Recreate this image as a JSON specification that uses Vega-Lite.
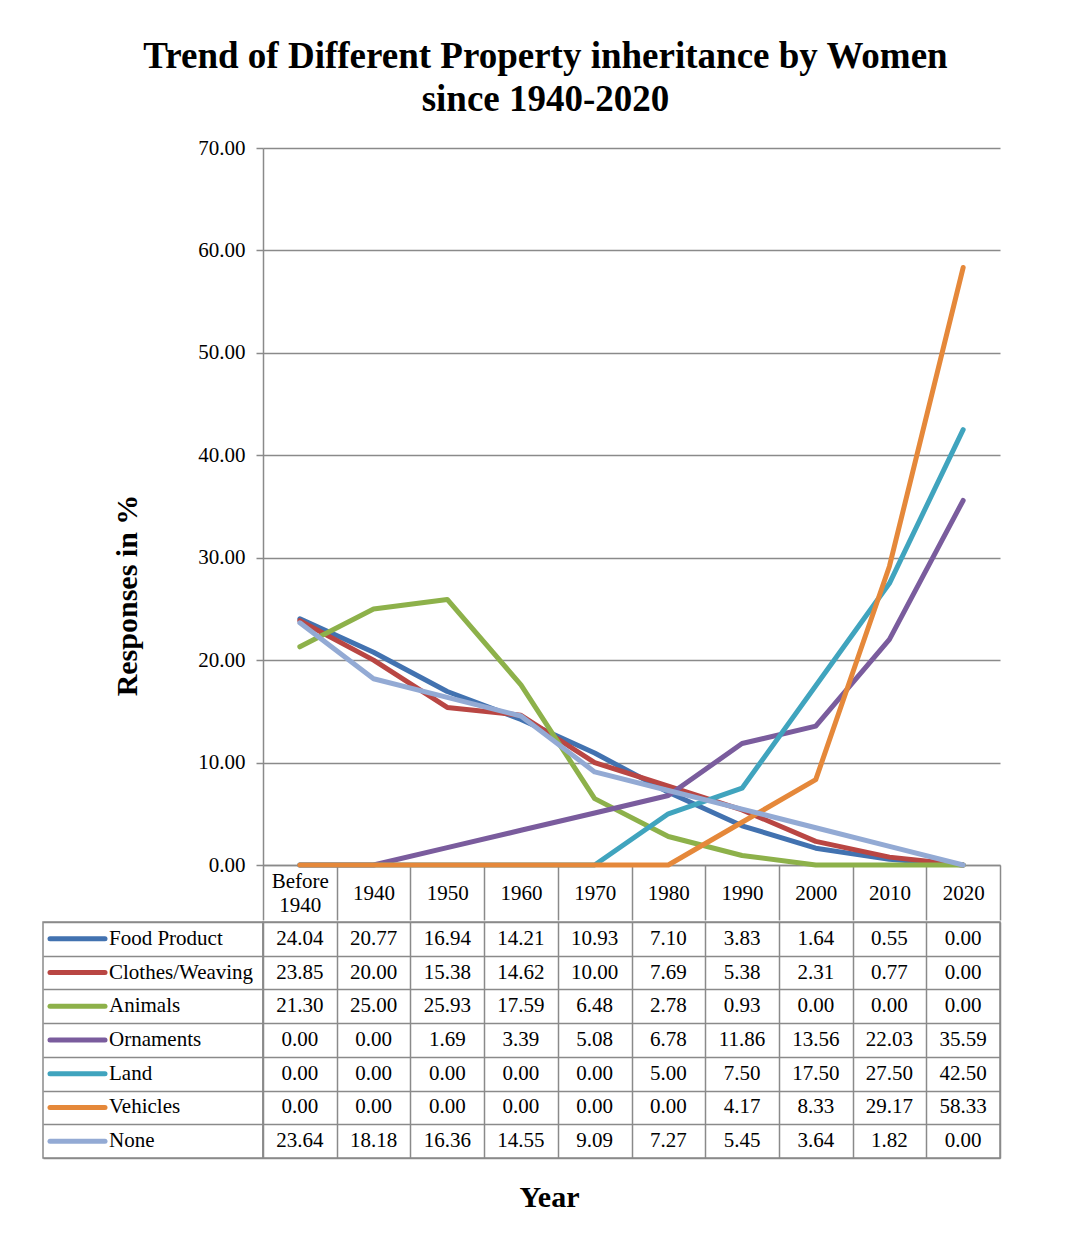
{
  "$schema": "https://vega.github.io/schema/vega-lite/v6.json",
  "padding": {"left": 42, "top": 38, "right": 5, "bottom": 5},
  "background": "white",
  "title": {
    "text": ["Trend of Different Property inheritance by Women", "since 1940-2020"],
    "font": "Liberation Serif",
    "fontSize": 37,
    "fontWeight": "bold",
    "lineHeight": 43,
    "anchor": "middle",
    "dx": 24,
    "offset": 18,
    "color": "black"
  },
  "config": {
    "font": "Liberation Serif",
    "concat": {"spacing": 0},
    "view": {"stroke": null}
  },
  "datasets": {
    "d": [
      {"year": "Before 1940", "series": "Food Product", "value": 24.04},
      {"year": "1940", "series": "Food Product", "value": 20.77},
      {"year": "1950", "series": "Food Product", "value": 16.94},
      {"year": "1960", "series": "Food Product", "value": 14.21},
      {"year": "1970", "series": "Food Product", "value": 10.93},
      {"year": "1980", "series": "Food Product", "value": 7.10},
      {"year": "1990", "series": "Food Product", "value": 3.83},
      {"year": "2000", "series": "Food Product", "value": 1.64},
      {"year": "2010", "series": "Food Product", "value": 0.55},
      {"year": "2020", "series": "Food Product", "value": 0.00},
      {"year": "Before 1940", "series": "Clothes/Weaving", "value": 23.85},
      {"year": "1940", "series": "Clothes/Weaving", "value": 20.00},
      {"year": "1950", "series": "Clothes/Weaving", "value": 15.38},
      {"year": "1960", "series": "Clothes/Weaving", "value": 14.62},
      {"year": "1970", "series": "Clothes/Weaving", "value": 10.00},
      {"year": "1980", "series": "Clothes/Weaving", "value": 7.69},
      {"year": "1990", "series": "Clothes/Weaving", "value": 5.38},
      {"year": "2000", "series": "Clothes/Weaving", "value": 2.31},
      {"year": "2010", "series": "Clothes/Weaving", "value": 0.77},
      {"year": "2020", "series": "Clothes/Weaving", "value": 0.00},
      {"year": "Before 1940", "series": "Animals", "value": 21.30},
      {"year": "1940", "series": "Animals", "value": 25.00},
      {"year": "1950", "series": "Animals", "value": 25.93},
      {"year": "1960", "series": "Animals", "value": 17.59},
      {"year": "1970", "series": "Animals", "value": 6.48},
      {"year": "1980", "series": "Animals", "value": 2.78},
      {"year": "1990", "series": "Animals", "value": 0.93},
      {"year": "2000", "series": "Animals", "value": 0.00},
      {"year": "2010", "series": "Animals", "value": 0.00},
      {"year": "2020", "series": "Animals", "value": 0.00},
      {"year": "Before 1940", "series": "Ornaments", "value": 0.00},
      {"year": "1940", "series": "Ornaments", "value": 0.00},
      {"year": "1950", "series": "Ornaments", "value": 1.69},
      {"year": "1960", "series": "Ornaments", "value": 3.39},
      {"year": "1970", "series": "Ornaments", "value": 5.08},
      {"year": "1980", "series": "Ornaments", "value": 6.78},
      {"year": "1990", "series": "Ornaments", "value": 11.86},
      {"year": "2000", "series": "Ornaments", "value": 13.56},
      {"year": "2010", "series": "Ornaments", "value": 22.03},
      {"year": "2020", "series": "Ornaments", "value": 35.59},
      {"year": "Before 1940", "series": "Land", "value": 0.00},
      {"year": "1940", "series": "Land", "value": 0.00},
      {"year": "1950", "series": "Land", "value": 0.00},
      {"year": "1960", "series": "Land", "value": 0.00},
      {"year": "1970", "series": "Land", "value": 0.00},
      {"year": "1980", "series": "Land", "value": 5.00},
      {"year": "1990", "series": "Land", "value": 7.50},
      {"year": "2000", "series": "Land", "value": 17.50},
      {"year": "2010", "series": "Land", "value": 27.50},
      {"year": "2020", "series": "Land", "value": 42.50},
      {"year": "Before 1940", "series": "Vehicles", "value": 0.00},
      {"year": "1940", "series": "Vehicles", "value": 0.00},
      {"year": "1950", "series": "Vehicles", "value": 0.00},
      {"year": "1960", "series": "Vehicles", "value": 0.00},
      {"year": "1970", "series": "Vehicles", "value": 0.00},
      {"year": "1980", "series": "Vehicles", "value": 0.00},
      {"year": "1990", "series": "Vehicles", "value": 4.17},
      {"year": "2000", "series": "Vehicles", "value": 8.33},
      {"year": "2010", "series": "Vehicles", "value": 29.17},
      {"year": "2020", "series": "Vehicles", "value": 58.33},
      {"year": "Before 1940", "series": "None", "value": 23.64},
      {"year": "1940", "series": "None", "value": 18.18},
      {"year": "1950", "series": "None", "value": 16.36},
      {"year": "1960", "series": "None", "value": 14.55},
      {"year": "1970", "series": "None", "value": 9.09},
      {"year": "1980", "series": "None", "value": 7.27},
      {"year": "1990", "series": "None", "value": 5.45},
      {"year": "2000", "series": "None", "value": 3.64},
      {"year": "2010", "series": "None", "value": 1.82},
      {"year": "2020", "series": "None", "value": 0.00}
    ]
  },
  "spacing": 0,
  "vconcat": [
    {
      "bounds": "flush",
      "spacing": 0,
      "hconcat": [
        {
          "width": 220,
          "height": 717,
          "data": {"values": [{}]},
          "mark": {"type": "text", "text": ""},
          "encoding": {}
        },
        {
          "width": 737,
          "height": 717,
          "data": {"name": "d"},
          "mark": {"type": "line", "strokeWidth": 5, "strokeCap": "round", "strokeJoin": "round"},
          "encoding": {
            "x": {
              "field": "year",
              "type": "nominal",
              "sort": ["Before 1940", "1940", "1950", "1960", "1970", "1980", "1990", "2000", "2010", "2020"],
              "scale": {"type": "band", "paddingInner": 0, "paddingOuter": 0},
              "bandPosition": 0.5,
              "axis": {
                "title": null,
                "orient": "bottom",
                "grid": false,
                "domainColor": "#8a8a8a",
                "domainWidth": 1.5,
                "tickBand": "extent",
                "tickSize": 55,
                "tickColor": "#8a8a8a",
                "tickWidth": 1.5,
                "labelAngle": 0,
                "labelFontSize": 21,
                "labelColor": "black",
                "labelBaseline": "middle",
                "labelPadding": {"condition": {"test": "datum.value == 'Before 1940'", "value": -39}, "value": -27},
                "labelLineHeight": 24,
                "labelExpr": "datum.value == 'Before 1940' ? ['Before', '1940'] : datum.value"
              }
            },
            "y": {
              "field": "value",
              "type": "quantitative",
              "scale": {"domain": [0, 70], "nice": false},
              "axis": {
                "values": [0, 10, 20, 30, 40, 50, 60, 70],
                "format": ".2f",
                "title": "Responses in %",
                "titleFontSize": 30,
                "titleFontWeight": "bold",
                "titleColor": "black",
                "titleAngle": 270,
                "titleAlign": "center",
                "titleBaseline": "middle",
                "titleX": -136,
                "titleY": 447,
                "labelFontSize": 21,
                "labelColor": "black",
                "labelPadding": 11,
                "tickSize": 7,
                "tickColor": "#8a8a8a",
                "tickWidth": 1.5,
                "domainColor": "#8a8a8a",
                "domainWidth": 1.5,
                "gridColor": "#8a8a8a",
                "gridWidth": 1.5
              }
            },
            "color": {
              "field": "series",
              "type": "nominal",
              "scale": {
                "domain": ["Food Product", "Clothes/Weaving", "Animals", "Ornaments", "Land", "Vehicles", "None"],
                "range": ["#4272b0", "#b94643", "#8db14a", "#7a5c9d", "#40a4be", "#e5883a", "#93aad4"]
              },
              "legend": null
            }
          }
        }
      ]
    },
    {
      "bounds": "flush",
      "spacing": 0,
      "hconcat": [
        {
          "width": 220,
          "height": 236,
          "data": {"name": "d"},
          "transform": [{"filter": "datum.year == 'Before 1940'"}],
          "view": {"stroke": "#8a8a8a", "strokeWidth": 1.5},
          "encoding": {
            "y": {
              "field": "series",
              "type": "nominal",
              "sort": ["Food Product", "Clothes/Weaving", "Animals", "Ornaments", "Land", "Vehicles", "None"],
              "scale": {"type": "band", "paddingInner": 0, "paddingOuter": 0},
              "bandPosition": 0.5,
              "axis": {"title": null, "labels": false, "ticks": false, "domain": false, "grid": true, "tickBand": "extent", "gridColor": "#8a8a8a", "gridWidth": 1.5}
            }
          },
          "layer": [
            {
              "mark": {"type": "rule", "strokeWidth": 5, "strokeCap": "round"},
              "encoding": {
                "x": {"datum": 7, "type": "quantitative", "scale": {"domain": [0, 220], "nice": false, "zero": false}, "axis": null},
                "x2": {"datum": 62},
                "color": {
                  "field": "series",
                  "type": "nominal",
                  "scale": {
                    "domain": ["Food Product", "Clothes/Weaving", "Animals", "Ornaments", "Land", "Vehicles", "None"],
                    "range": ["#4272b0", "#b94643", "#8db14a", "#7a5c9d", "#40a4be", "#e5883a", "#93aad4"]
                  },
                  "legend": null
                }
              }
            },
            {
              "mark": {"type": "text", "align": "left", "baseline": "middle", "fontSize": 21, "color": "black"},
              "encoding": {
                "x": {"datum": 66, "type": "quantitative"},
                "text": {"field": "series", "type": "nominal"}
              }
            }
          ]
        },
        {
          "width": 737,
          "height": 236,
          "data": {"name": "d"},
          "view": {"stroke": "#8a8a8a", "strokeWidth": 1.5},
          "mark": {"type": "text", "fontSize": 21, "color": "black", "baseline": "middle"},
          "encoding": {
            "x": {
              "field": "year",
              "type": "nominal",
              "sort": ["Before 1940", "1940", "1950", "1960", "1970", "1980", "1990", "2000", "2010", "2020"],
              "scale": {"type": "band", "paddingInner": 0, "paddingOuter": 0},
              "bandPosition": 0.5,
              "axis": {
                "orient": "bottom",
                "labels": false,
                "ticks": false,
                "domain": false,
                "grid": true,
                "tickBand": "extent",
                "gridColor": "#8a8a8a",
                "gridWidth": 1.5,
                "title": "Year",
                "titleFontSize": 30,
                "titleFontWeight": "bold",
                "titleColor": "black",
                "titleX": 286,
                "titlePadding": 24
              }
            },
            "y": {
              "field": "series",
              "type": "nominal",
              "sort": ["Food Product", "Clothes/Weaving", "Animals", "Ornaments", "Land", "Vehicles", "None"],
              "scale": {"type": "band", "paddingInner": 0, "paddingOuter": 0},
              "bandPosition": 0.5,
              "axis": {"title": null, "labels": false, "ticks": false, "domain": false, "grid": true, "tickBand": "extent", "gridColor": "#8a8a8a", "gridWidth": 1.5}
            },
            "text": {"field": "value", "type": "quantitative", "format": ".2f"}
          }
        }
      ]
    }
  ]
}
